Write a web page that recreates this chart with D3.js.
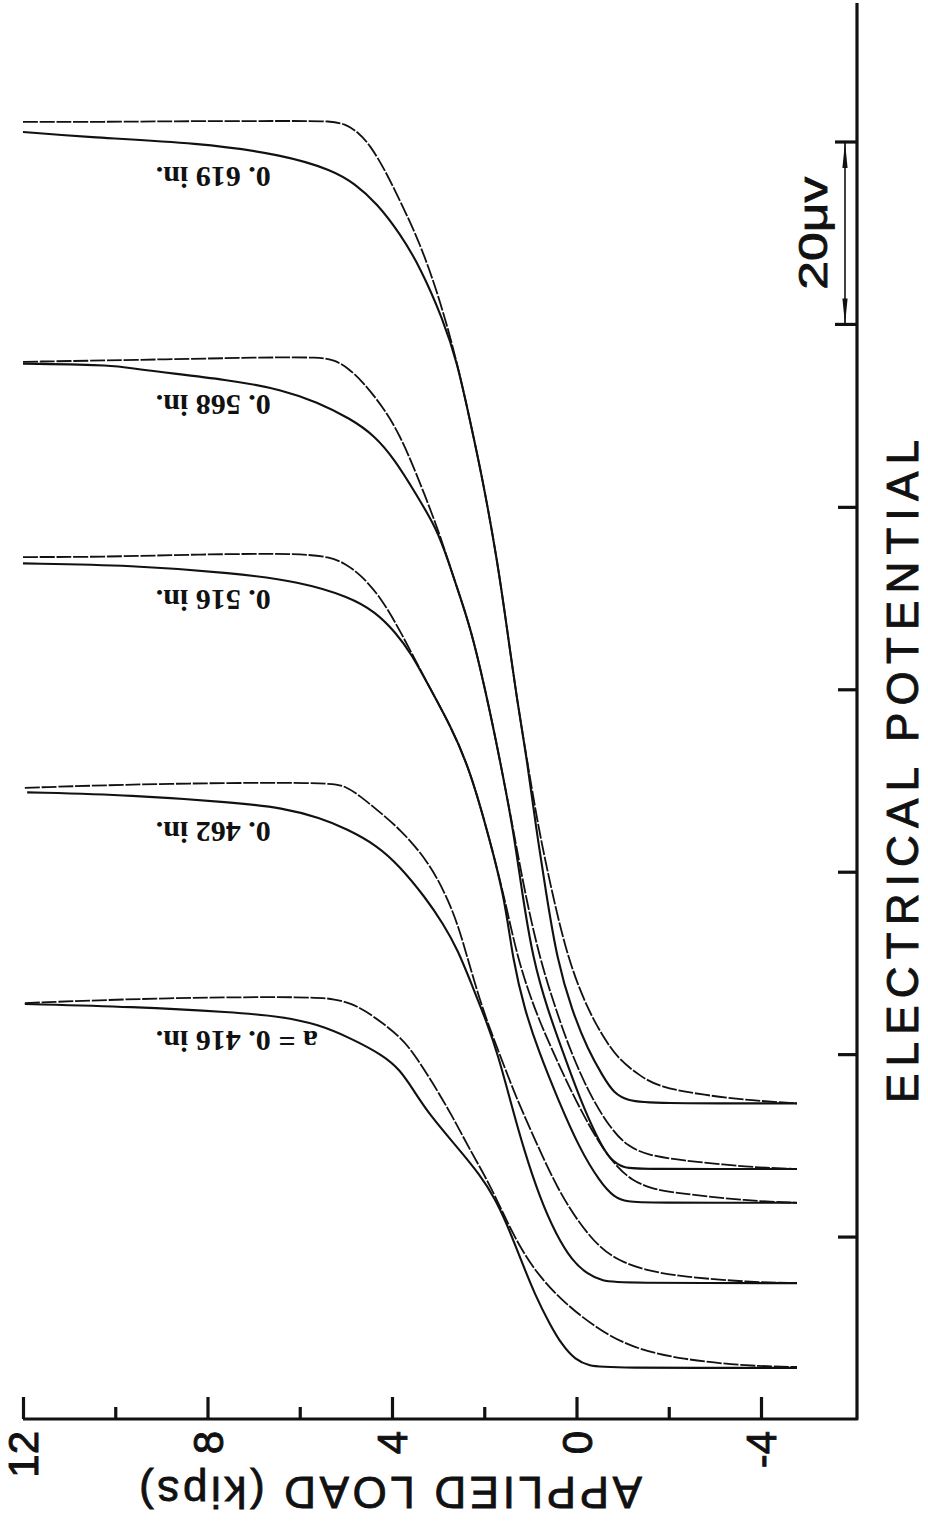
<!DOCTYPE html>
<html>
<head>
<meta charset="utf-8">
<script src="https://cdn.jsdelivr.net/npm/d3@7"></script>
<style>
  body { margin: 0; background: #fff; }
  svg { display: block; background: #fff; }
</style>
</head>
<body>
<svg id="chart" width="928" height="1533"></svg>
<script>
// crack length of each pair of traces
const crackLabels = ["a = 0. 416 in.", "0. 462 in.", "0. 516 in.", "0. 568 in.", "0. 619 in."];

// traces as [load (kips), potential (uV)]
// "Up" = upper/right trace (pen partly broken), "Lo" = lower/left trace
const a416Up = [[11.96,45.6],[8.88,46.2],[5.63,46.3],[5.24,46.0],[4.91,45.6],[4.59,44.8],[4.20,43.4],[3.83,41.9],[3.54,40.2],[3.11,36.8],[2.68,33.1],[2.31,29.5],[1.90,25.9],[1.55,22.1],[1.22,18.75],[0.79,15.5],[0.25,12.7],[-0.34,10.3],[-1.12,7.9],[-2.29,6.5],[-3.74,5.8],[-4.78,5.7]];
const a416Lo = [[11.96,45.5],[9.62,45.2],[7.45,44.6],[6.36,44.1],[5.63,43.3],[4.91,41.8],[4.20,39.9],[3.83,38.3],[3.54,36.1],[3.18,33.3],[2.57,29.7],[2.09,26.75],[1.77,24.2],[1.51,21.4],[1.22,17.65],[0.90,13.6],[0.57,10.3],[0.31,8.1],[0.03,6.5],[-0.29,5.8],[-0.62,5.6],[-4.78,5.6]];

const a462Up = [[11.96,69.2],[8.88,69.7],[5.34,69.8],[5.02,69.4],[4.69,68.3],[4.33,66.8],[3.83,64.7],[3.24,61.3],[2.85,57.7],[2.57,54.2],[2.35,50.3],[2.03,44.8],[1.70,40.45],[1.33,35.5],[0.90,30.6],[0.40,25.1],[-0.08,21.3],[-0.51,18.75],[-0.94,17.3],[-1.49,16.3],[-2.29,15.6],[-3.74,15.0],[-4.78,14.9]];
const a462Lo = [[11.91,68.7],[9.62,68.4],[7.45,67.6],[6.36,67.0],[5.56,65.9],[4.98,64.7],[4.33,62.9],[3.83,60.6],[3.28,57.2],[2.89,54.3],[2.57,51.4],[2.27,47.6],[1.96,43.7],[1.70,39.9],[1.44,35.0],[1.14,29.5],[0.79,24.2],[0.44,20.2],[0.10,17.4],[-0.23,15.9],[-0.57,15.1],[-0.94,14.9],[-4.78,14.9]];

const a516Up = [[12.0,94.5],[10.33,94.5],[8.16,94.8],[6.0,94.9],[5.34,94.5],[5.02,93.8],[4.69,92.6],[4.26,90.2],[3.83,86.5],[3.24,80.7],[2.74,76.1],[2.31,71.2],[1.88,63.5],[1.55,56.9],[1.27,50.3],[0.90,44.8],[0.53,40.45],[0.03,35.0],[-0.51,30.0],[-0.90,27.5],[-1.20,26.2],[-1.59,25.3],[-2.09,24.8],[-3.74,23.9],[-4.78,23.7]];
const a516Lo = [[12.0,93.8],[9.62,93.6],[7.45,92.75],[6.0,91.8],[4.91,90.1],[4.37,88.5],[3.93,86.3],[3.57,83.8],[3.24,80.7],[2.74,76.1],[2.31,71.2],[1.88,63.5],[1.55,56.9],[1.38,50.3],[1.12,44.8],[0.83,40.45],[0.40,35.0],[-0.08,29.5],[-0.51,26.0],[-0.81,24.3],[-1.12,23.8],[-1.49,23.7],[-4.78,23.7]];

const a568Up = [[12.0,115.9],[9.62,116.1],[6.71,116.4],[5.56,116.4],[5.24,116.1],[4.95,115.2],[4.65,113.8],[4.20,111.0],[3.83,107.9],[3.46,103.5],[3.02,97.8],[2.79,94.2],[2.50,89.8],[2.24,85.7],[1.88,77.7],[1.66,72.2],[1.38,64.9],[1.12,57.7],[0.79,50.3],[0.44,44.8],[0.14,40.45],[-0.29,35.5],[-0.73,31.9],[-1.12,29.8],[-1.59,28.9],[-2.18,28.4],[-3.74,27.6],[-4.78,27.4]];
const a568Lo = [[12.0,115.7],[9.96,115.55],[9.62,115.1],[7.45,113.9],[6.36,112.8],[5.63,111.5],[4.91,109.7],[4.37,107.8],[3.93,105.1],[3.50,101.6],[3.02,97.5],[2.79,94.2],[2.50,89.8],[2.24,85.7],[1.88,77.7],[1.66,72.2],[1.38,64.9],[1.18,57.7],[0.94,50.3],[0.62,44.8],[0.31,40.45],[-0.08,35.0],[-0.47,30.6],[-0.73,28.4],[-1.03,27.5],[-1.38,27.4],[-4.78,27.4]];

const a619Up = [[12.0,142.2],[10.33,142.2],[8.16,142.3],[6.0,142.3],[5.34,142.3],[5.02,142.0],[4.74,141.1],[4.48,139.7],[4.15,136.9],[3.83,133.6],[3.39,128.9],[2.96,122.7],[2.59,115.9],[2.31,109.5],[2.03,102.9],[1.72,94.2],[1.51,86.8],[1.29,78.8],[1.07,72.2],[0.83,64.9],[0.53,57.7],[0.18,50.3],[-0.25,44.8],[-0.62,41.55],[-0.92,39.4],[-1.38,37.6],[-1.79,36.4],[-2.76,35.5],[-3.83,34.9],[-4.78,34.6]];
const a619Lo = [[12.0,141.1],[10.70,140.55],[8.16,139.9],[6.36,138.6],[5.28,136.9],[4.80,135.4],[4.33,133.3],[3.83,130.0],[3.39,126.3],[2.89,120.5],[2.59,115.9],[2.31,109.5],[2.03,102.9],[1.72,94.2],[1.51,86.8],[1.29,78.8],[1.07,72.2],[0.88,64.9],[0.66,57.7],[0.42,50.3],[0.10,44.8],[-0.25,40.45],[-0.57,37.6],[-0.81,35.7],[-1.12,34.9],[-1.59,34.6],[-4.78,34.6]];

const loadMajor = [12, 8, 4, 0, -4];
const loadMinor = [10, 6, 2, -2];
const potTicks = [20, 40, 60, 80, 100];
const scaleBar = [120, 140];   // one 20 uV division
const scaleLabel = "20\u03BCv";

const pairs = [
  { label: crackLabels[0], up: a416Up, lo: a416Lo },
  { label: crackLabels[1], up: a462Up, lo: a462Lo },
  { label: crackLabels[2], up: a516Up, lo: a516Lo },
  { label: crackLabels[3], up: a568Up, lo: a568Lo },
  { label: crackLabels[4], up: a619Up, lo: a619Lo }
];
// how far each label hangs below its pair (px)
const labelGap = [38, 45, 43, 44, 56];

const svg = d3.select("#chart");
const ink = "#111";
const sans = "'Liberation Sans', Arial, sans-serif";

// load runs right-to-left along the bottom, potential up the right side
const x = d3.scaleLinear().domain([12, -4]).range([23, 761]);
const y = d3.scaleLinear().domain([0, 140]).range([1419, 142]);
const xRight = 857, yTop = 3;

const line = d3.line()
  .x(d => x(d[0]))
  .y(d => y(d[1]))
  .curve(d3.curveBasis);

const traces = svg.append("g").attr("fill", "none").attr("stroke", ink);

pairs.forEach(p => {
  traces.append("path")
    .attr("d", line(p.lo))
    .attr("stroke-width", 2.1)
    .attr("stroke-linejoin", "round");
  traces.append("path")
    .attr("d", line(p.up))
    .attr("stroke-width", 1.8)
    .attr("stroke-dasharray", "15,1.8");
});

// labels sit under the start of each pair, upside down like the original
svg.append("g")
  .selectAll("text")
  .data(pairs)
  .join("text")
  .attr("transform", (d, i) => `translate(${x(9.12)},${y(d.up[0][1]) + labelGap[i]}) rotate(180)`)
  .attr("text-anchor", "end")
  .attr("dy", "0.35em")
  .attr("font-family", "'Liberation Serif', serif")
  .attr("font-weight", "bold")
  .attr("font-size", 30)
  .attr("fill", ink)
  .text(d => d.label);

// frame: bottom (load) and right (potential) lines
svg.append("path")
  .attr("d", `M${x(12)},${y(0)}H${xRight}V${yTop}`)
  .attr("fill", "none")
  .attr("stroke", ink)
  .attr("stroke-width", 3.2)
  .attr("stroke-linejoin", "round");

const loadAxis = svg.append("g").attr("transform", `translate(0,${y(0)})`);
loadAxis.call(d3.axisTop(x).tickValues(loadMajor).tickSize(22).tickFormat(""));
loadAxis.append("g").call(d3.axisTop(x).tickValues(loadMinor).tickSize(12).tickFormat(""));
loadAxis.selectAll(".domain").remove();
loadAxis.selectAll("line").attr("stroke", ink).attr("stroke-width", 3.2);

svg.append("g")
  .selectAll("text")
  .data(loadMajor)
  .join("text")
  .attr("transform", d => `translate(${x(d)},${y(0) + 12}) rotate(-90)`)
  .attr("text-anchor", "end")
  .attr("dy", "0.36em")
  .attr("font-family", sans)
  .attr("font-size", 42)
  .attr("fill", ink)
  .attr("stroke", ink)
  .attr("stroke-width", 0.9)
  .text(d => d);

svg.append("text")
  .attr("transform", `translate(${(139 + 642) / 2},1493) rotate(180)`)
  .attr("text-anchor", "middle")
  .attr("dy", "0.36em")
  .attr("font-family", sans)
  .attr("font-size", 44)
  .attr("textLength", 503)
  .attr("lengthAdjust", "spacing")
  .attr("fill", ink)
  .attr("stroke", ink)
  .attr("stroke-width", 0.8)
  .text("APPLIED LOAD (kips)");

const potAxis = svg.append("g").attr("transform", `translate(${xRight},0)`);
potAxis.call(d3.axisLeft(y).tickValues(potTicks).tickSize(19).tickFormat(""));
potAxis.selectAll(".domain").remove();
potAxis.selectAll("line").attr("stroke", ink).attr("stroke-width", 3.2);

// 20 uV scale bar
const bar = svg.append("g").attr("stroke", ink).attr("fill", ink);
const barX = 845;
bar.append("line")
  .attr("x1", barX).attr("x2", barX)
  .attr("y1", y(scaleBar[0])).attr("y2", y(scaleBar[1]))
  .attr("stroke-width", 1.6);
scaleBar.forEach(v => {
  bar.append("line")
    .attr("x1", 835).attr("x2", xRight)
    .attr("y1", y(v)).attr("y2", y(v))
    .attr("stroke-width", 3.2);
});
[[scaleBar[0], 1], [scaleBar[1], -1]].forEach(([v, dir]) => {
  const y0 = y(v);
  bar.append("path")
    .attr("stroke", "none")
    .attr("d", `M${barX},${y0}L${barX - 2.6},${y0 - dir * 26}L${barX + 2.6},${y0 - dir * 26}Z`);
});

svg.append("text")
  .attr("transform", `translate(827,${(y(scaleBar[0]) + y(scaleBar[1])) / 2}) rotate(-90)`)
  .attr("text-anchor", "middle")
  .attr("font-family", sans)
  .attr("font-size", 40)
  .attr("textLength", 113)
  .attr("lengthAdjust", "spacingAndGlyphs")
  .attr("fill", ink)
  .attr("stroke", ink)
  .attr("stroke-width", 0.8)
  .text(scaleLabel);

svg.append("text")
  .attr("transform", `translate(918,${(1103 + 440) / 2}) rotate(-90)`)
  .attr("text-anchor", "middle")
  .attr("font-family", sans)
  .attr("font-size", 44)
  .attr("textLength", 663)
  .attr("lengthAdjust", "spacing")
  .attr("fill", ink)
  .attr("stroke", ink)
  .attr("stroke-width", 0.9)
  .text("ELECTRICAL POTENTIAL");
</script>
</body>
</html>
